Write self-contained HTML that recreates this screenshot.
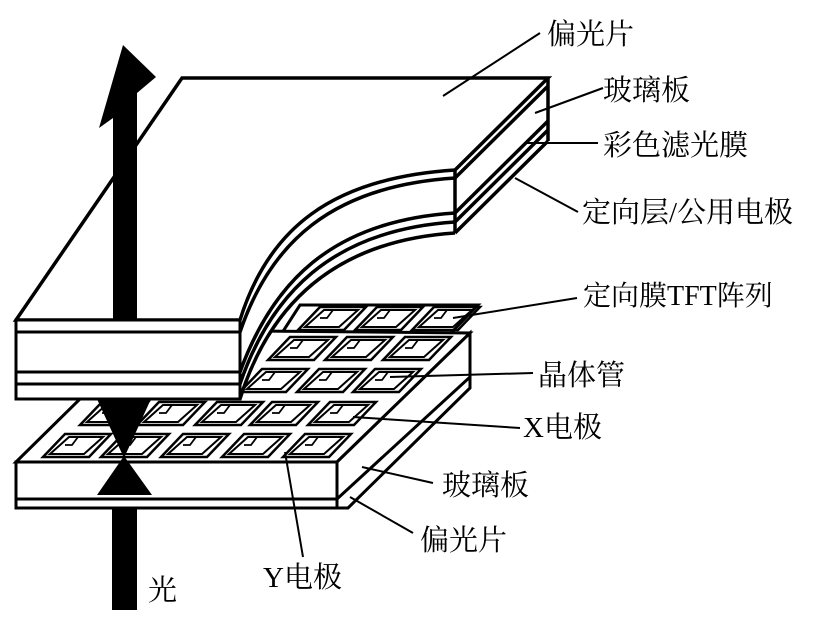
<!DOCTYPE html>
<html><head><meta charset="utf-8"><style>
html,body{margin:0;padding:0;background:#fff;}
svg{display:block;}
text{font-family:"Liberation Serif","Noto Serif CJK SC",serif;font-size:29px;fill:#000;}
</style></head><body>
<svg width="819" height="628" viewBox="0 0 819 628" xmlns="http://www.w3.org/2000/svg">
<g stroke="#000" stroke-width="3" fill="#fff" stroke-linejoin="miter">
<polygon points="300,305 478,305 448,336 280,336"/>
<polygon points="16,462 150,330 470,333 337,462"/>
<polygon points="337,462 470,333 470,388 348,508 337,508"/>
<line x1="337" y1="499" x2="470" y2="377"/>
<rect x="16" y="462" width="321" height="46"/>
<line x1="16" y1="499" x2="337" y2="499"/>
<line x1="337" y1="508" x2="348" y2="508"/>
</g>
<g stroke="#000" fill="none" stroke-width="2">
<defs>
<g id="c">
<polygon points="0,0 46,0 68,-23 22,-23" stroke-width="2.5"/>
<polygon points="7,-3 41,-3 60,-20 26,-20" stroke-width="2"/>
<polyline points="22,-12 29,-12 35,-20" stroke-width="1.8"/>
</g>
</defs>
<use href="#c" x="298" y="330"/><use href="#c" x="355" y="330"/><use href="#c" x="412" y="330"/>
<use href="#c" x="268" y="360"/><use href="#c" x="325" y="360"/><use href="#c" x="383" y="360"/>
<use href="#c" x="240" y="392"/><use href="#c" x="297" y="392"/><use href="#c" x="353" y="392"/>
<use href="#c" x="80" y="425"/><use href="#c" x="137" y="425"/><use href="#c" x="195" y="425"/><use href="#c" x="250" y="425"/><use href="#c" x="308" y="425"/>
<use href="#c" x="43" y="457"/><use href="#c" x="101" y="457"/><use href="#c" x="161" y="457"/><use href="#c" x="222" y="457"/><use href="#c" x="283" y="457"/>
</g>
<polygon points="97,399 151,399 124,458" fill="#000"/>
<polygon points="124,456 97,495 152,495" fill="#000"/>
<rect x="112" y="508" width="25" height="102" fill="#000"/>
<g stroke="none" fill="#fff">
<polygon points="182,78 548,78 548,141 455,233 455,170 240,320 16,320"/>
<path d="M455,170 C330,178 268,230 240,320 L240,399 C268,309 330,241 455,233 Z"/>
</g>
<g stroke="#000" stroke-width="3.5" fill="none">
<path d="M455,170 C330,178 268,230 240,320 L16,320 L182,78 L548,78 L455,170"/>
<path d="M455,178 C330,186 270,244 240,332"/>
<path d="M455,213 C330,221 272,284 240,372"/>
<path d="M455,222 C330,230 270,296 240,384"/>
<path d="M455,233 C330,241 268,309 240,399"/>
<line x1="548" y1="78" x2="548" y2="141"/>
<line x1="455" y1="170" x2="455" y2="233"/>
<line x1="548" y1="86" x2="455" y2="178"/>
<line x1="548" y1="121" x2="455" y2="213"/>
<line x1="548" y1="130" x2="455" y2="222"/>
<line x1="548" y1="141" x2="455" y2="233"/>
</g>
<polygon points="123,45 156,77 137,93 137,320 113,320 113,118 99,128" fill="#000"/>
<g stroke="#000" stroke-width="3" fill="#fff">
<rect x="16" y="320" width="224" height="79"/>
<line x1="16" y1="332" x2="240" y2="332"/>
<line x1="16" y1="372" x2="240" y2="372"/>
<line x1="16" y1="384" x2="240" y2="384"/>
</g>
<g stroke="#000" stroke-width="2" fill="none">
<line x1="443" y1="96" x2="540" y2="33"/>
<line x1="535" y1="113" x2="603" y2="88"/>
<line x1="527" y1="143" x2="598" y2="143"/>
<line x1="515" y1="178" x2="578" y2="212"/>
<line x1="453" y1="318" x2="577" y2="298"/>
<line x1="390" y1="377" x2="533" y2="373"/>
<line x1="353" y1="417" x2="520" y2="428"/>
<line x1="362" y1="467" x2="433" y2="483"/>
<line x1="350" y1="497" x2="413" y2="533"/>
<line x1="285" y1="452" x2="303" y2="557"/>
</g>
<text x="547" y="44">偏光片</text>
<text x="603" y="100">玻璃板</text>
<text x="603" y="155">彩色滤光膜</text>
<text x="582" y="222">定向层/公用电极</text>
<text x="583" y="305" style="font-size:28px">定向膜TFT阵列</text>
<text x="538" y="385">晶体管</text>
<text x="523" y="437">X电极</text>
<text x="442" y="495">玻璃板</text>
<text x="420" y="550">偏光片</text>
<text x="263" y="587">Y电极</text>
<text x="148" y="600">光</text>
</svg>
</body></html>
